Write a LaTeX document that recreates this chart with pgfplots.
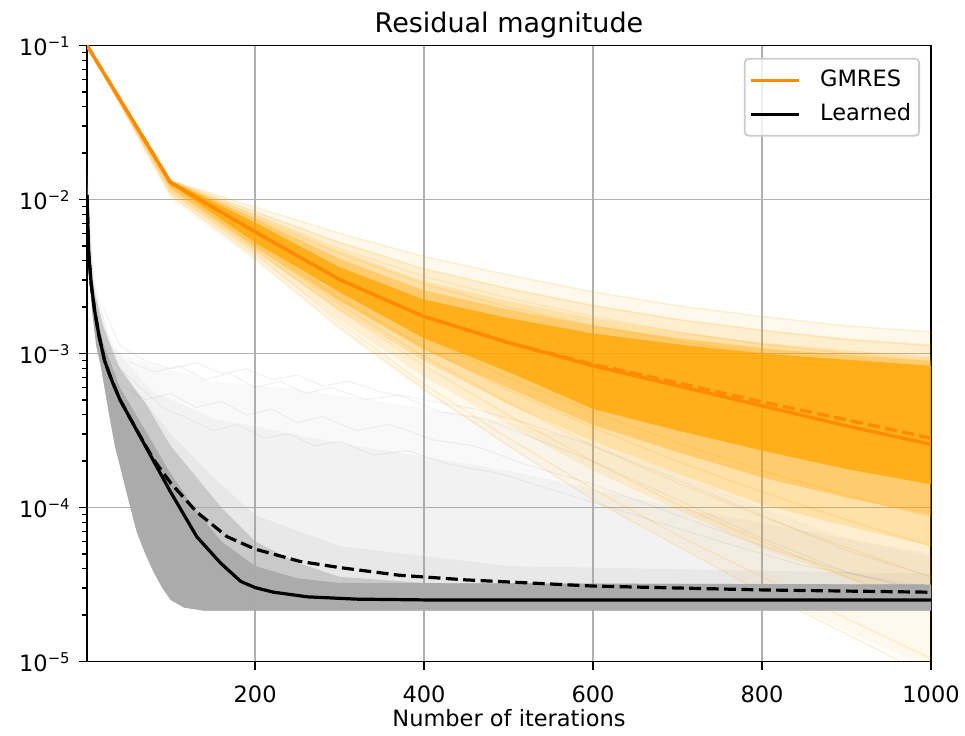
\documentclass[border=0pt]{standalone}
\usepackage{fontspec}
\setmainfont{DejaVu Sans}
\usepackage{pgfplots}
\pgfplotsset{compat=1.18}

\definecolor{gmres}{HTML}{FF8C00}
\definecolor{gband}{HTML}{FFA500}
\definecolor{lgray}{HTML}{A0A0A0}
\definecolor{dgray}{HTML}{AAAAAA}
\definecolor{wgray}{HTML}{969696}
\definecolor{gridc}{HTML}{B0B0B0}
\definecolor{legedge}{HTML}{CCCCCC}

\newcommand{\tf}{\fontsize{11.25}{13.5}\selectfont}
\newcommand{\ex}[1]{10\raisebox{4.2pt}{\fontsize{7.4}{9}\selectfont −#1}}

\begin{document}
\begin{tikzpicture}
\begin{axis}[
    at={(0pt,0pt)}, anchor=south west,
    scale only axis, width=422pt, height=308pt,
    xmin=1, xmax=1000,
    ymode=log, ymin=1e-5, ymax=1e-1,
    xtick={200,400,600,800,1000},
    xticklabels={200,400,600,800,1000},
    ytick={1e-5,1e-4,1e-3,1e-2,1e-1},
    yticklabels={\ex{5},\ex{4},\ex{3},\ex{2},\ex{1}},
    minor ytick={2e-5,3e-5,4e-5,5e-5,6e-5,7e-5,8e-5,9e-5,
                 2e-4,3e-4,4e-4,5e-4,6e-4,7e-4,8e-4,9e-4,
                 2e-3,3e-3,4e-3,5e-3,6e-3,7e-3,8e-3,9e-3,
                 2e-2,3e-2,4e-2,5e-2,6e-2,7e-2,8e-2,9e-2},
    tick align=outside, xtick pos=bottom, ytick pos=left,
    major tick length=4pt, minor tick length=2.4pt,
    every tick/.style={black, line width=0.9pt},
    every minor tick/.append style={line width=0.7pt},
    grid=major, major grid style={gridc, line width=0.9pt},
    axis line style={black, line width=0.9pt},
    ticklabel style={font=\tf, inner sep=0pt},
    xticklabel style={anchor=base, yshift=-16.5pt},
    yticklabel style={anchor=base east, xshift=-4.5pt, yshift=-5pt},
    title={Residual magnitude},
    title style={font=\fontsize{13.5}{16}\selectfont, at={(axis description cs:0.5,1)}, anchor=base, yshift=0.7pt},
    xlabel={Number of iterations},
    xlabel style={font=\tf, at={(axis description cs:0.5,0)}, anchor=base, yshift=-32.25pt},
    legend style={at={(0.987,0.98)}, anchor=north east, draw=legedge, line width=0.9pt,
        rounded corners=2pt, fill=white, fill opacity=0.8, text opacity=1, font=\tf,
        inner xsep=2.5pt, inner ysep=3.75pt, row sep=3pt,
        nodes={inner sep=1.5pt, text height=8.5pt, text depth=2.5pt},
        /tikz/every odd column/.append style={column sep=8pt}},
    legend cell align=left,
    legend image code/.code={\draw[#1] (0pt,0pt) -- (24pt,0pt);},
]

% Learned: faint envelope layers
\addplot[draw=none, fill=lgray, fill opacity=0.06, forget plot] coordinates {
(1,1.995e-2)(3,7.943e-3)(8,3.548e-3)(15,2.239e-3)(25,1.413e-3)(40,1e-3)(80,8.318e-4)(150,6.607e-4)(250,5.888e-4)(370,4.677e-4)(500,3.548e-4)(600,2.630e-4)(700,1.660e-4)(800,1e-4)(900,6.310e-5)(1000,4.786e-5)
(1000,2.138e-5)(140,2.138e-5)(116,2.239e-5)(100,2.512e-5)(90,3.020e-5)(80,3.802e-5)(70,5.012e-5)(60,6.918e-5)(50,1.122e-4)(40,1.862e-4)(34,2.512e-4)(28,3.802e-4)(22,5.888e-4)(18,7.943e-4)(12,1.122e-3)(7,1.905e-3)(4,3.548e-3)(1,1e-2)
} -- cycle;
\addplot[draw=none, fill=lgray, fill opacity=0.08, forget plot] coordinates {
(1,1.778e-2)(10,2.818e-3)(30,1.122e-3)(80,5.623e-4)(150,3.802e-4)(300,2.630e-4)(500,1.738e-4)(700,1e-4)(1000,5.012e-5)
(1000,2.138e-5)(140,2.138e-5)(116,2.239e-5)(100,2.512e-5)(90,3.020e-5)(80,3.802e-5)(70,5.012e-5)(60,6.918e-5)(50,1.122e-4)(40,1.862e-4)(34,2.512e-4)(28,3.802e-4)(22,5.888e-4)(18,7.943e-4)(12,1.122e-3)(7,1.905e-3)(4,3.548e-3)(1,1e-2)
} -- cycle;
\addplot[draw=none, fill=lgray, fill opacity=0.12, forget plot] coordinates {
(1,1.413e-2)(10,2.399e-3)(30,1e-3)(60,5.623e-4)(100,3.020e-4)(150,1.585e-4)(200,8.913e-5)(300,5.623e-5)(500,4.169e-5)(1000,3.715e-5)
(1000,2.138e-5)(140,2.138e-5)(116,2.239e-5)(100,2.512e-5)(90,3.020e-5)(80,3.802e-5)(70,5.012e-5)(60,6.918e-5)(50,1.122e-4)(40,1.862e-4)(34,2.512e-4)(28,3.802e-4)(22,5.888e-4)(18,7.943e-4)(12,1.122e-3)(7,1.905e-3)(4,3.548e-3)(1,1e-2)
} -- cycle;

% GMRES: bands, from faint to dense
\addplot[draw=none, fill=gband, fill opacity=0.07, forget plot] coordinates {
(1,0.1)(100,1.349e-2)(200,8.913e-3)(300,6.026e-3)(400,4.266e-3)(500,3.236e-3)(600,2.512e-3)(700,2.042e-3)(800,1.738e-3)(900,1.514e-3)(1000,1.380e-3)
(1000,8.913e-6)(900,1.585e-5)(800,2.818e-5)(700,5.623e-5)(600,1.122e-4)(500,2.512e-4)(400,5.623e-4)(300,1.413e-3)(200,3.981e-3)(100,1e-2)
} -- cycle;
\addplot[draw=none, fill=gband, fill opacity=0.12, forget plot] coordinates {
(1,0.1)(100,1.343e-2)(200,8.414e-3)(300,5.309e-3)(400,3.548e-3)(500,2.661e-3)(600,2.065e-3)(700,1.679e-3)(800,1.429e-3)(900,1.259e-3)(1000,1.148e-3)
(1000,2.239e-5)(900,3.467e-5)(800,5.433e-5)(700,9.661e-5)(600,1.738e-4)(500,3.428e-4)(400,7.079e-4)(300,1.641e-3)(200,4.266e-3)(100,1.059e-2)
} -- cycle;
\addplot[draw=none, fill=gband, fill opacity=0.2, forget plot] coordinates {
(1,0.1)(100,1.334e-2)(200,7.943e-3)(300,4.677e-3)(400,2.951e-3)(500,2.188e-3)(600,1.698e-3)(700,1.380e-3)(800,1.175e-3)(900,1.047e-3)(1000,9.550e-4)
(1000,5.623e-5)(900,7.586e-5)(800,1.047e-4)(700,1.660e-4)(600,2.692e-4)(500,4.677e-4)(400,8.913e-4)(300,1.905e-3)(200,4.571e-3)(100,1.122e-2)
} -- cycle;
\addplot[draw=none, fill=gband, fill opacity=0.35, forget plot] coordinates {
(1,0.1)(100,1.326e-2)(200,7.499e-3)(300,4.121e-3)(400,2.570e-3)(500,1.928e-3)(600,1.514e-3)(700,1.259e-3)(800,1.084e-3)(900,9.772e-4)(1000,8.913e-4)
(1000,8.913e-5)(900,1.161e-4)(800,1.567e-4)(700,2.291e-4)(600,3.428e-4)(500,5.957e-4)(400,1.059e-3)(300,2.188e-3)(200,4.898e-3)(100,1.189e-2)
} -- cycle;
\addplot[draw=none, fill=gband, fill opacity=0.75, forget plot] coordinates {
(1,0.1)(100,1.318e-2)(200,7.079e-3)(300,3.631e-3)(400,2.239e-3)(500,1.698e-3)(600,1.349e-3)(700,1.148e-3)(800,1e-3)(900,9.120e-4)(1000,8.318e-4)
(1000,1.413e-4)(900,1.778e-4)(800,2.344e-4)(700,3.162e-4)(600,4.365e-4)(500,7.586e-4)(400,1.259e-3)(300,2.512e-3)(200,5.248e-3)(100,1.259e-2)
} -- cycle;

% GMRES: single runs
\pgfplotsset{strand/.style={gband, opacity=0.16, line width=0.7pt, forget plot}}
\addplot[strand] coordinates {(1,0.1)(100,1.318e-2)(200,8.913e-3)(300,6.026e-3)(400,4.266e-3)(500,3.236e-3)(600,2.512e-3)(700,2.042e-3)(800,1.738e-3)(900,1.514e-3)(1000,1.380e-3)};
\addplot[strand] coordinates {(1,0.1)(100,1.318e-2)(200,8.318e-3)(300,5.248e-3)(400,3.548e-3)(500,2.630e-3)(600,2.042e-3)(700,1.660e-3)(800,1.413e-3)(900,1.230e-3)(1000,1.122e-3)};
\addplot[strand] coordinates {(1,0.1)(100,1.259e-2)(200,7.586e-3)(300,4.467e-3)(400,2.818e-3)(500,1.995e-3)(600,1.514e-3)(700,1.202e-3)(800,1e-3)(900,8.710e-4)(1000,7.762e-4)};
\addplot[strand] coordinates {(1,0.1)(100,1.122e-2)(200,4.467e-3)(300,1.585e-3)(400,6.310e-4)(500,2.818e-4)(600,1.318e-4)(700,6.607e-5)(800,3.548e-5)(900,1.905e-5)(1000,1.047e-5)};
\addplot[strand] coordinates {(1,0.1)(100,1.072e-2)(200,4.169e-3)(300,1.479e-3)(400,5.888e-4)(500,2.512e-4)(600,1.122e-4)(700,5.623e-5)(800,2.818e-5)(900,1.514e-5)(1000,7.943e-6)};
\addplot[strand] coordinates {(1,0.1)(100,1.175e-2)(200,4.786e-3)(300,1.905e-3)(400,8.318e-4)(500,3.981e-4)(600,1.995e-4)(700,1.047e-4)(800,6.026e-5)(900,3.548e-5)(1000,2.239e-5)};
\addplot[strand] coordinates {(1,0.1)(100,1.202e-2)(200,5.012e-3)(300,2.089e-3)(400,9.550e-4)(500,4.786e-4)(600,2.512e-4)(700,1.445e-4)(800,8.710e-5)(900,5.495e-5)(1000,3.548e-5)};
\addplot[strand] coordinates {(1,0.1)(100,1.230e-2)(200,5.248e-3)(300,2.291e-3)(400,1.096e-3)(500,5.754e-4)(600,3.311e-4)(700,1.995e-4)(800,1.259e-4)(900,8.318e-5)(1000,5.623e-5)};
\addplot[strand] coordinates {(1,0.1)(100,1.259e-2)(200,5.495e-3)(300,2.512e-3)(400,1.259e-3)(500,6.918e-4)(600,4.169e-4)(700,2.630e-4)(800,1.738e-4)(900,1.202e-4)(1000,8.710e-5)};
\addplot[strand] coordinates {(1,0.1)(100,1.288e-2)(200,7.943e-3)(300,4.786e-3)(400,3.162e-3)(500,2.291e-3)(600,1.738e-3)(700,1.380e-3)(800,1.148e-3)(900,1e-3)(1000,8.913e-4)};

% Learned: medium and dense core
\addplot[draw=none, fill=dgray, fill opacity=0.5, forget plot] coordinates {
(1,1.259e-2)(3,6.310e-3)(6,3.548e-3)(10,2.512e-3)(20,1.514e-3)(40,7.943e-4)(70,4.786e-4)(100,2.512e-4)(130,1.585e-4)(160,1e-4)(200,6.026e-5)(250,4.365e-5)(300,3.548e-5)(400,3.236e-5)(1000,3.162e-5)
(1000,2.138e-5)(140,2.138e-5)(116,2.239e-5)(100,2.512e-5)(90,3.020e-5)(80,3.802e-5)(70,5.012e-5)(60,6.918e-5)(50,1.122e-4)(40,1.862e-4)(34,2.512e-4)(28,3.802e-4)(22,5.888e-4)(18,7.943e-4)(12,1.122e-3)(7,1.905e-3)(4,3.548e-3)(1,1e-2)
} -- cycle;
\addplot[draw=none, fill=dgray, fill opacity=0.95, forget plot] coordinates {
(1,1.202e-2)(3,5.012e-3)(6,3.020e-3)(10,2.089e-3)(20,1.175e-3)(40,6.026e-4)(70,3.162e-4)(100,1.660e-4)(130,9.550e-5)(160,6.026e-5)(200,4.169e-5)(250,3.467e-5)(300,3.236e-5)(1000,3.162e-5)
(1000,2.138e-5)(140,2.138e-5)(116,2.239e-5)(100,2.512e-5)(90,3.020e-5)(80,3.802e-5)(70,5.012e-5)(60,6.918e-5)(50,1.122e-4)(40,1.862e-4)(34,2.512e-4)(28,3.802e-4)(22,5.888e-4)(18,7.943e-4)(12,1.122e-3)(7,1.905e-3)(4,3.548e-3)(1,1e-2)
} -- cycle;

% Learned: single runs
\pgfplotsset{wavy/.style={wgray, opacity=0.12, line width=0.6pt, forget plot}}
\addplot[wavy] coordinates {(50,8.913e-4)(80,7.586e-4)(110,8.318e-4)(140,6.761e-4)(170,7.413e-4)(200,6.026e-4)(230,6.607e-4)(260,5.495e-4)(290,6.026e-4)(330,5.012e-4)(370,5.370e-4)(420,4.169e-4)(470,3.802e-4)(530,2.818e-4)(600,1.995e-4)(700,1.122e-4)(800,6.310e-5)(900,3.802e-5)(1000,2.818e-5)};
\addplot[wavy] coordinates {(40,6.310e-4)(70,5.012e-4)(100,5.495e-4)(130,4.467e-4)(160,4.898e-4)(190,3.981e-4)(220,4.365e-4)(250,3.548e-4)(280,3.890e-4)(320,3.162e-4)(360,3.467e-4)(410,2.754e-4)(460,2.512e-4)(520,1.905e-4)(600,1.413e-4)(700,8.913e-5)(800,5.623e-5)(900,3.802e-5)(1000,2.818e-5)};
\addplot[wavy] coordinates {(30,8.913e-4)(60,6.310e-4)(90,4.467e-4)(120,3.802e-4)(150,3.162e-4)(180,3.467e-4)(210,2.818e-4)(240,3.020e-4)(270,2.512e-4)(300,2.692e-4)(340,2.188e-4)(380,2.344e-4)(430,1.905e-4)(490,1.660e-4)(560,1.259e-4)(650,8.913e-5)(750,6.026e-5)(850,4.169e-5)(1000,3.020e-5)};
\addplot[wavy] coordinates {(20,1.995e-3)(40,1.122e-3)(70,8.913e-4)(100,7.943e-4)(130,8.710e-4)(160,7.413e-4)(190,7.943e-4)(220,6.761e-4)(250,7.244e-4)(280,6.166e-4)(310,6.607e-4)(350,5.623e-4)(400,5.012e-4)(460,4.365e-4)(520,3.548e-4)(600,2.512e-4)(700,1.514e-4)(800,8.913e-5)(900,5.248e-5)(1000,3.548e-5)};

% GMRES median and mean
\addplot[gmres, line width=1.7pt] coordinates {(1,0.1)(100,1.288e-2)(200,6.166e-3)(300,3.020e-3)(400,1.738e-3)(500,1.175e-3)(600,8.318e-4)(700,6.166e-4)(800,4.571e-4)(900,3.388e-4)(1000,2.570e-4)};
\addlegendentry{GMRES}
\addplot[gmres, line width=1.7pt, dash pattern=on 6pt off 2.7pt, forget plot] coordinates {(1,0.1)(100,1.288e-2)(200,6.166e-3)(300,3.020e-3)(400,1.738e-3)(500,1.175e-3)(600,8.511e-4)(700,6.457e-4)(800,4.842e-4)(900,3.715e-4)(1000,2.818e-4)};

% Learned median and mean
\addplot[black, line width=1.6pt] coordinates {(1,1.072e-2)(3,4.467e-3)(6,2.818e-3)(10,1.905e-3)(15,1.318e-3)(22,8.913e-4)(30,6.761e-4)(40,5.012e-4)(56,3.467e-4)(72,2.399e-4)(100,1.259e-4)(131,6.457e-5)(159,4.365e-5)(183,3.311e-5)(200,3.020e-5)(222,2.818e-5)(262,2.630e-5)(320,2.541e-5)(400,2.512e-5)(1000,2.512e-5)};
\addlegendentry{Learned}
\addplot[black, line width=1.6pt, dash pattern=on 6pt off 2.7pt, forget plot] coordinates {(1,1.072e-2)(3,4.467e-3)(6,2.818e-3)(10,1.905e-3)(15,1.318e-3)(22,8.913e-4)(30,6.761e-4)(40,5.012e-4)(56,3.467e-4)(80,2.042e-4)(100,1.445e-4)(131,9.333e-5)(167,6.457e-5)(200,5.370e-5)(253,4.467e-5)(300,4.074e-5)(371,3.631e-5)(450,3.388e-5)(600,3.090e-5)(800,2.917e-5)(1000,2.818e-5)};

\end{axis}
\pgfresetboundingbox
\path[use as bounding box] (-43.5pt,-36.75pt) rectangle (439pt,330.75pt);
\end{tikzpicture}
\end{document}
